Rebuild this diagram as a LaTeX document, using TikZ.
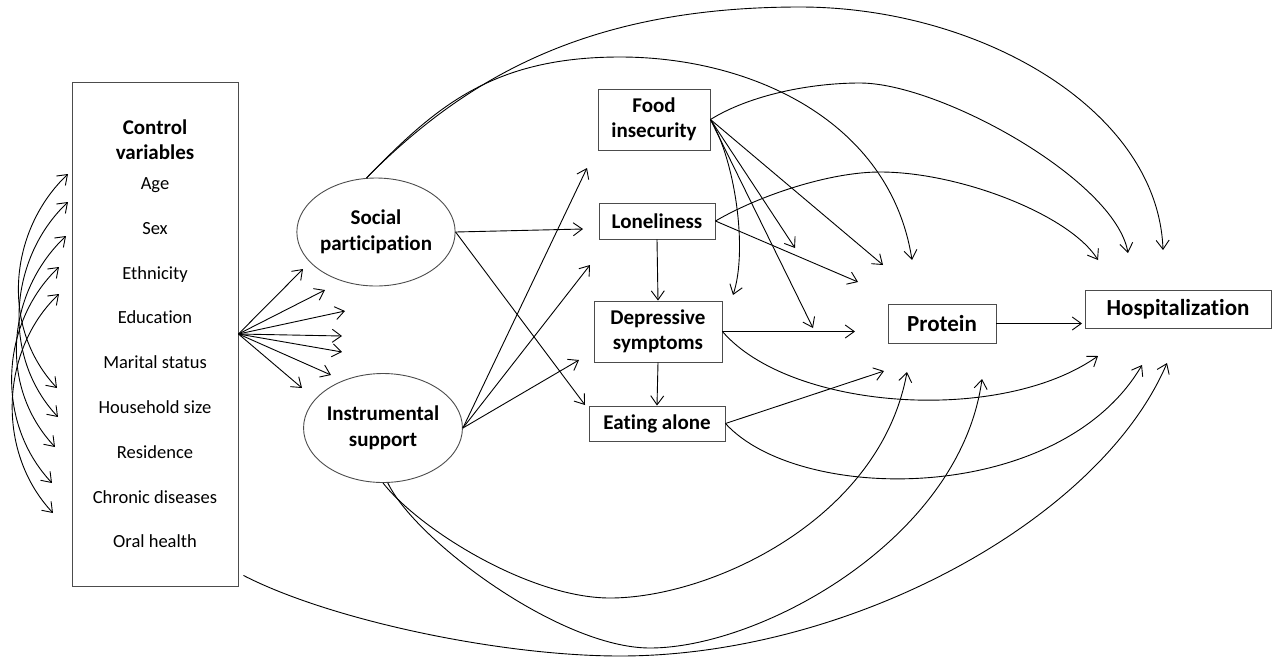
\documentclass[tikz,border=0pt]{standalone}
\usepackage{fontspec}
\setmainfont{Carlito}[Ligatures=NoCommon]
\usetikzlibrary{arrows.meta,shapes.geometric,calc}

\begin{document}
\begin{tikzpicture}[x=1pt,y=-1pt,
  tip/.tip={Straight Barb[length=9pt,width=13pt]},
  conn/.style={line width=0.9pt,-tip},
  both/.style={line width=0.9pt,tip-tip},
  box/.style={draw=black!70,line width=0.9pt,rectangle,inner sep=0pt,align=center,
    font=\fontsize{21}{25.5}\selectfont\bfseries},
  bigbox/.style={box,font=\fontsize{23}{27}\selectfont\bfseries},
  oval/.style={draw=black!70,line width=0.9pt,ellipse,inner sep=0pt,align=center,
    minimum width=138pt,minimum height=108pt,font=\fontsize{21}{26}\selectfont\bfseries},
  item/.style={anchor=base,inner sep=0pt,font=\fontsize{18.5}{22}\selectfont}
]
\useasboundingbox (0,0) rectangle (1275,657);

% ---------- nodes ----------
\node[box,minimum width=166pt,minimum height=504pt] (ctrl) at (155,334) {};
\node[align=center,inner sep=0pt,font=\fontsize{21}{25}\selectfont\bfseries] (ctrltitle) at (155,140) {Control\\variables};
\node[item] (age) at (155,189) {Age};
\node[item] (sex) at (155,234) {Sex};
\node[item] (eth) at (155,279) {Ethnicity};
\node[item] (edu) at (155,323) {Education};
\node[item] (mar) at (155,368) {Marital status};
\node[item] (hh)  at (155,413) {Household size};
\node[item] (res) at (155,458) {Residence};
\node[item] (chr) at (155,503) {Chronic diseases};
\node[item] (oral) at (155,547) {Oral health};

\node[oval] (sp) at (376,232) {Social\\participation};
\node[oval,minimum height=109pt] (is) at (383,428) {Instrumental\\support};

\node[box,minimum width=112pt,minimum height=61pt] (fi) at (654,119.5) {Food\\insecurity};
\node[box,minimum width=116pt,minimum height=36pt] (lon) at (657,221) {Loneliness};
\node[box,minimum width=128pt,minimum height=61pt] (ds) at (658,331.5) {Depressive\\symptoms};
\node[box,minimum width=136pt,minimum height=35pt] (ea) at (657,423.5) {Eating alone};
\node[bigbox,minimum width=108pt,minimum height=39pt] (pr) at (942,323.5) {Protein};
\node[bigbox,minimum width=186pt,minimum height=38pt] (hosp) at (1178,309) {Hospitalization};

% ---------- free ends of arrows ----------
\coordinate (t1) at (68,174);  \coordinate (b1) at (57,388);
\coordinate (t2) at (68,202);  \coordinate (b2) at (58,417);
\coordinate (t3) at (66,236);  \coordinate (b3) at (55,447);
\coordinate (t4) at (59,267);  \coordinate (b4) at (52,483);
\coordinate (t5) at (59,294);  \coordinate (b5) at (53,513);

\coordinate (f1) at (303,269);
\coordinate (f2) at (325,290);
\coordinate (f3) at (345,311);
\coordinate (f4) at (342,336);
\coordinate (f5) at (342,352);
\coordinate (f6) at (331,375);
\coordinate (f7) at (302,388);

\coordinate (splonE) at (583,229);
\coordinate (speaE)  at (585,405);
\coordinate (isfiE)  at (587,168);
\coordinate (isloE)  at (590,265);
\coordinate (isdsE)  at (579,360);

\coordinate (fiA) at (795,248);
\coordinate (fiB) at (883,265);
\coordinate (fiC) at (813,328);
\coordinate (fiD) at (733,295);
\coordinate (lonA) at (858,282);
\coordinate (dsA) at (855,331.5);
\coordinate (eaA) at (884,371);
\coordinate (prA) at (1082,323.5);

\coordinate (spH) at (1163,250);
\coordinate (spP) at (912,260);
\coordinate (fiH) at (1128,253);
\coordinate (lonH) at (1098,260);
\coordinate (dsH) at (1098,356);
\coordinate (eaH) at (1142,365);
\coordinate (isP1) at (907,372);
\coordinate (isP2) at (982,379);
\coordinate (ctrlH) at (1167,363);

% ---------- arcs among the control variables ----------
\foreach \i in {1,...,5}
  \draw[both] (t\i) .. controls +(-58,55) and +(-58,-62) .. (b\i);

% ---------- fan from control variables ----------
\foreach \j in {1,...,7}
  \draw[conn] (ctrl.east) -- (f\j);

% ---------- straight paths ----------
\draw[conn] (sp.east) -- (splonE);
\draw[conn] (sp.east) -- (speaE);
\draw[conn] (is.east) -- (isfiE);
\draw[conn] (is.east) -- (isloE);
\draw[conn] (is.east) -- (isdsE);
\draw[conn] (lon.south) -- (ds.north);
\draw[conn] (ds.south) -- (ea.north);
\draw[conn] (fi.east) -- (fiA);
\draw[conn] (fi.east) -- (fiB);
\draw[conn] (fi.east) -- (fiC);
\draw[conn] (lon.east) -- (lonA);
\draw[conn] (ds.east) -- (dsA);
\draw[conn] (ea.east) -- (eaA);
\draw[conn] (pr.east) -- (prA);

% ---------- curved paths ----------
% food insecurity -> depressive symptoms
\draw[conn] (fi.east) .. controls (735,160) and (748,250) .. (fiD);
% social participation -> hospitalization (outer arc)
\draw[conn] (sp.100) .. controls (474,69) and (600,7) .. (800,7)
                     .. controls (980,7) and (1158,110) .. (spH);
% social participation -> protein (inner arc)
\draw[conn] (sp.100) .. controls (434,109) and (490,57) .. (620,57)
                     .. controls (750,57) and (890,120) .. (spP);
% food insecurity -> hospitalization
\draw[conn] (fi.east) .. controls (750,95) and (810,83) .. (860,83)
                      .. controls (940,83) and (1115,180) .. (fiH);
% loneliness -> hospitalization
\draw[conn] (lon.east) .. controls (760,195) and (830,172) .. (880,172)
                       .. controls (960,172) and (1070,215) .. (lonH);
% depressive symptoms -> hospitalization
\draw[conn] (ds.east) .. controls (790,410) and (1000,425) .. (dsH);
% eating alone -> hospitalization
\draw[conn] (ea.east) .. controls (800,505) and (1060,505) .. (eaH);
% instrumental support -> protein (two arcs)
\draw[conn] (is.south) .. controls (420,530) and (530,598) .. (610,598)
                       .. controls (710,598) and (880,520) .. (isP1);
\draw[conn] (is.-85) .. controls (415,540) and (560,648) .. (650,648)
                     .. controls (760,648) and (960,540) .. (isP2);
% control variables -> hospitalization
\draw[conn] ($(ctrl.south east)+(5,-11)$) .. controls (330,620) and (500,656) .. (620,656)
                                          .. controls (850,656) and (1100,520) .. (ctrlH);
\end{tikzpicture}
\end{document}
